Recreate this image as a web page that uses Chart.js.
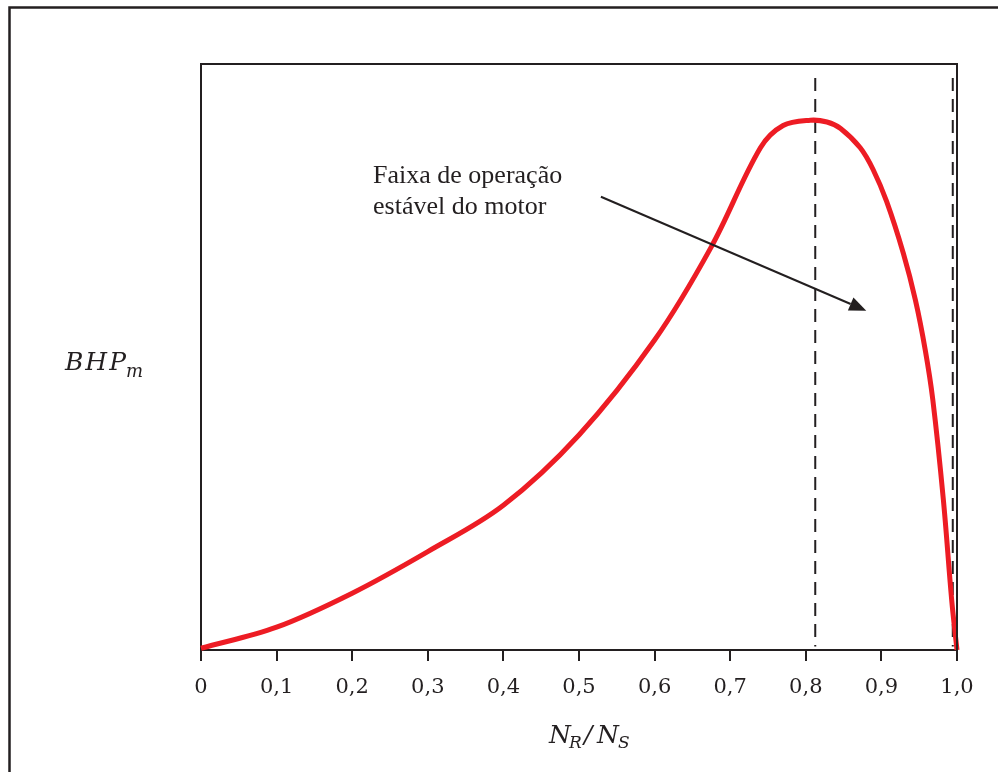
<!DOCTYPE html>
<html>
<head>
<meta charset="utf-8">
<script src="https://cdn.jsdelivr.net/npm/chart.js@4.4.1/dist/chart.umd.min.js"></script>
<style>
  html, body { margin: 0; padding: 0; background: #fff; }
  #wrap { width: 998px; height: 772px; }
</style>
</head>
<body>
<div id="wrap"><canvas id="chart" width="998" height="772"></canvas></div>
<script>
'use strict';

// Curve (x = N_R/N_S, y = relative BHP_m)
const speedRatio = [0, 0.1, 0.2, 0.3, 0.4, 0.5, 0.6, 0.675, 0.74, 0.77, 0.806, 0.828, 0.846, 0.872, 0.889, 0.907, 0.929, 0.945, 0.958, 0.968, 0.982, 0.993, 1.0];
const bhpValues  = [0.003, 0.039, 0.097, 0.168, 0.247, 0.367, 0.529, 0.688, 0.857, 0.895, 0.904, 0.901, 0.89, 0.857, 0.82, 0.765, 0.677, 0.597, 0.512, 0.427, 0.256, 0.085, 0];

// Stable operating range limits (dashed lines)
const limitX = [0.8125, 0.9944];
const limitTop = 0.976;
const limitBottom = 0.006;

// x tick labels
const tickValues = [0, 0.1, 0.2, 0.3, 0.4, 0.5, 0.6, 0.7, 0.8, 0.9, 1.0];
const tickLabels = ['0', '0,1', '0,2', '0,3', '0,4', '0,5', '0,6', '0,7', '0,8', '0,9', '1,0'];

// annotation
const noteLines = ['Faixa de operação', 'estável do motor'];
const noteAt = { x: 0.2276, y: 0.797 };
const arrowFrom = { x: 0.529, y: 0.7735 };
const arrowTo = { x: 0.880, y: 0.579 };

const ink = '#231f20';
const red = '#ed1c24';

function pts(xs, ys) {
  return xs.map((x, i) => ({ x: x, y: ys[i] }));
}

// draws the frame, box, axis titles and annotation
const extras = {
  id: 'extras',
  afterDraw(chart) {
    const ctx = chart.ctx;
    const xs = chart.scales.x;
    const ys = chart.scales.y;
    const a = chart.chartArea;
    ctx.save();

    // outer frame
    ctx.strokeStyle = ink;
    ctx.lineWidth = 2.5;
    ctx.beginPath();
    ctx.moveTo(9.5, 800);
    ctx.lineTo(9.5, 7.5);
    ctx.lineTo(1000, 7.5);
    ctx.stroke();

    // plot box top and right
    ctx.lineWidth = 2;
    ctx.beginPath();
    ctx.moveTo(a.left, a.top);
    ctx.lineTo(a.right, a.top);
    ctx.lineTo(a.right, a.bottom);
    ctx.stroke();

    // y title: BHP_m
    ctx.fillStyle = ink;
    ctx.textBaseline = 'alphabetic';
    ctx.textAlign = 'left';
    ctx.font = 'italic 25px "DejaVu Serif"';
    let px = 65;
    for (const ch of 'BHP') {
      ctx.fillText(ch, px, 370);
      px += ctx.measureText(ch).width + 2;
    }
    ctx.font = 'italic 18px "DejaVu Serif"';
    ctx.fillText('m', px - 2, 377);

    // x title: N_R/N_S
    ctx.font = 'italic 25px "DejaVu Serif"';
    ctx.fillText('N', 549, 743);
    ctx.font = 'italic 17px "DejaVu Serif"';
    ctx.fillText('R', 569, 748);
    ctx.font = 'italic 25px "DejaVu Serif"';
    ctx.fillText('/', 584, 743);
    ctx.fillText('N', 597, 743);
    ctx.font = 'italic 17px "DejaVu Serif"';
    ctx.fillText('S', 618, 748);

    // annotation text
    ctx.font = '26px "Liberation Serif"';
    const tx = xs.getPixelForValue(noteAt.x);
    const ty = ys.getPixelForValue(noteAt.y);
    noteLines.forEach((line, i) => ctx.fillText(line, tx, ty + i * 31));

    // arrow
    const x0 = xs.getPixelForValue(arrowFrom.x), y0 = ys.getPixelForValue(arrowFrom.y);
    const x1 = xs.getPixelForValue(arrowTo.x), y1 = ys.getPixelForValue(arrowTo.y);
    const ang = Math.atan2(y1 - y0, x1 - x0);
    const head = 17, half = 7;
    const bx = x1 - head * Math.cos(ang), by = y1 - head * Math.sin(ang);
    ctx.strokeStyle = ink;
    ctx.lineWidth = 2;
    ctx.beginPath();
    ctx.moveTo(x0, y0);
    ctx.lineTo(bx, by);
    ctx.stroke();
    ctx.beginPath();
    ctx.moveTo(x1, y1);
    ctx.lineTo(bx + half * Math.sin(ang), by - half * Math.cos(ang));
    ctx.lineTo(bx - half * Math.sin(ang), by + half * Math.cos(ang));
    ctx.closePath();
    ctx.fill();

    ctx.restore();
  }
};

function setup() {
  const ctx = document.getElementById('chart').getContext('2d');
  new Chart(ctx, {
    type: 'line',
    data: {
      datasets: [{
        data: pts(speedRatio, bhpValues),
        borderColor: red,
        borderWidth: 5,
        pointRadius: 0,
        tension: 0.35,
        clip: false
      }].concat(limitX.map(x => ({
        data: [{ x: x, y: limitTop }, { x: x, y: limitBottom }],
        borderColor: ink,
        borderWidth: 2,
        borderDash: [13, 8],
        pointRadius: 0,
        tension: 0
      })))
    },
    options: {
      responsive: false,
      animation: false,
      events: [],
      layout: { padding: { top: 64, right: 41, left: 0, bottom: 0 } },
      plugins: { legend: { display: false }, tooltip: { enabled: false } },
      scales: {
        x: {
          type: 'linear',
          min: 0,
          max: 1,
          afterBuildTicks: s => { s.ticks = tickValues.map(v => ({ value: v })); },
          afterFit: s => { s.height = 122; },
          grid: { drawOnChartArea: false, drawTicks: true, tickLength: 11, color: ink, lineWidth: 2 },
          border: { display: true, color: ink, width: 2 },
          ticks: {
            color: ink,
            padding: 14,
            maxRotation: 0,
            autoSkip: false,
            font: { family: 'DejaVu Serif', size: 21 },
            callback: (v) => tickLabels[tickValues.findIndex(t => Math.abs(t - v) < 1e-6)]
          }
        },
        y: {
          min: 0,
          max: 1,
          afterFit: s => { s.width = 201; },
          grid: { display: false },
          border: { display: true, color: ink, width: 2 },
          ticks: { display: false }
        }
      }
    },
    plugins: [extras]
  });
}

window.addEventListener('load', setup);
</script>
</body>
</html>
